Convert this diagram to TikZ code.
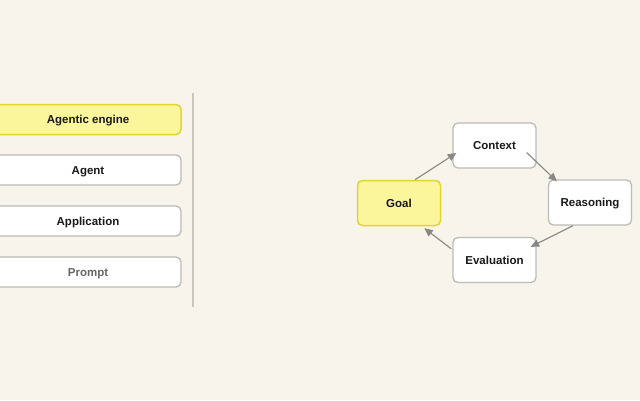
\documentclass[tikz,border=0pt]{standalone}
\usepackage{fontspec}
\setmainfont{Liberation Sans}
\usetikzlibrary{calc,arrows.meta}
\definecolor{bg}{HTML}{F7F4EC}
\definecolor{yfill}{HTML}{FBF59C}
\definecolor{ydraw}{HTML}{E3D531}
\definecolor{gdraw}{HTML}{BDBBB6}
\definecolor{arr}{HTML}{888784}
\definecolor{sep}{HTML}{C9C6C0}
\tikzset{
  box/.style={draw=gdraw, fill=white, line width=1.3pt, rounded corners=5pt,
    font=\fontsize{11.5}{13}\selectfont\bfseries, text=black!90, inner sep=0pt,
    text height=8.2pt, text depth=0pt},
  hi/.style={box, draw=ydraw, fill=yfill, line width=1.5pt},
  layer/.style={minimum width=186pt, minimum height=30pt},
  cyc/.style={minimum width=83pt, minimum height=45pt},
  conn/.style={draw=arr, line width=1.1pt, -{Triangle[length=8.5pt,width=7.5pt]}}
}
\begin{document}
\begin{tikzpicture}[x=1pt,y=-1pt]
\fill[bg] (0,0) rectangle (640,400);
\useasboundingbox (0,0) rectangle (640,400);
% left layers
\node[hi,layer] (engine) at (88,119.5) {Agentic engine};
\node[box,layer] (agent) at (88,170) {Agent};
\node[box,layer] (app) at (88,221) {Application};
\node[box,layer,text=black!60] (prompt) at (88,272) {Prompt};
% separator
\coordinate (s1) at (193,93);
\coordinate (s2) at (193,307);
\draw[sep, line width=1.2pt] (s1) -- (s2);
% cycle
\node[hi,cyc] (goal) at (399,203) {Goal};
\node[box,cyc] (context) at (494.5,145.5) {Context};
\node[box,cyc] (reason) at (590,202.5) {Reasoning};
\node[box,cyc] (eval) at (494.5,260) {Evaluation};
\draw[conn] ($(goal.north)+(16,0)$) -- ($(context.west)+(4,7.5)$);
\draw[conn] ($(context.east)+(-10,7)$) -- ($(reason.north west)+(9,2)$);
\draw[conn] ($(reason.south)+(-17,0)$) -- ($(eval.north east)+(-6,10)$);
\draw[conn] ($(eval.north west)+(-1,12)$) -- ($(goal.south east)+(-17,2)$);
\end{tikzpicture}
\end{document}
